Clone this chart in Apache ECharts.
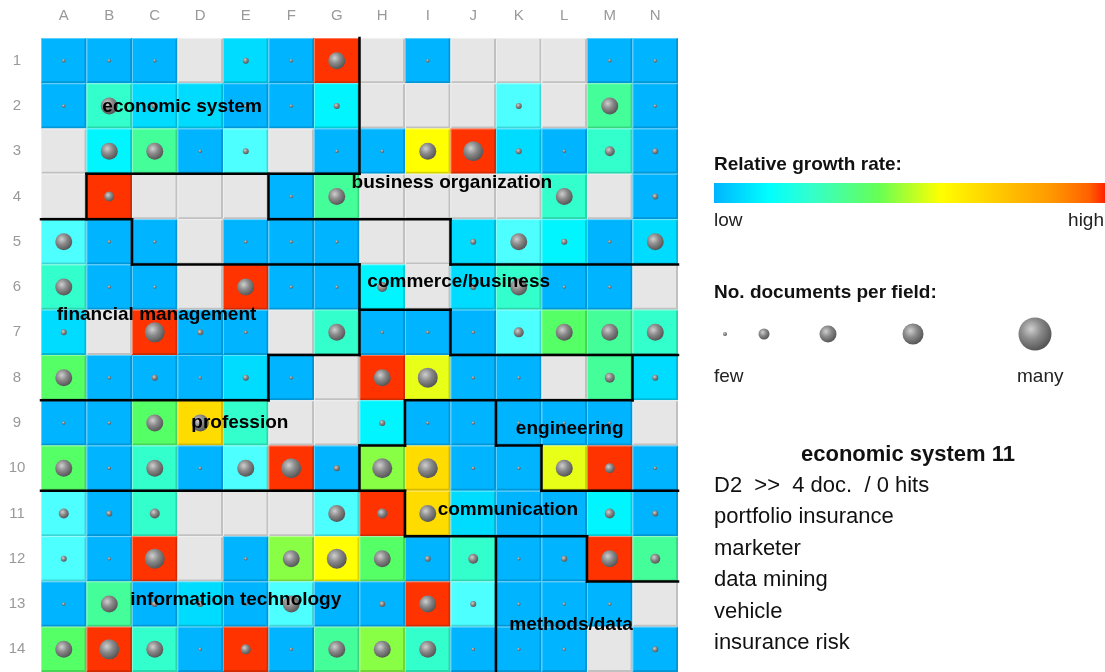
<!DOCTYPE html>
<html><head><meta charset="utf-8">
<script src="https://cdn.jsdelivr.net/npm/echarts@6/dist/echarts.min.js"></script>
<style>html,body{margin:0;padding:0;background:#fff}#c{width:1105px;height:672px}</style>
</head><body><div id="c"></div>
<script>
const columns = ['A','B','C','D','E','F','G','H','I','J','K','L','M','N'];
const rows = ['1','2','3','4','5','6','7','8','9','10','11','12','13','14'];

// relative growth class per field (0 = empty field), rows 1..14, columns A..N
const growth = [
  [1,1,1,0,2,1,12,0,1,0,0,0,1,1],
  [1,5,2,2,1,1,3,0,0,0,4,0,6,1],
  [0,3,6,1,4,0,1,1,10,12,2,1,5,1],
  [0,12,0,0,0,1,6,0,0,0,0,5,0,1],
  [4,1,1,0,1,1,1,0,0,2,4,3,1,2],
  [5,1,1,0,12,1,1,3,0,2,5,1,1,0],
  [2,0,12,1,1,0,5,1,1,1,4,7,6,5],
  [7,1,1,1,2,1,0,12,9,1,1,0,6,2],
  [1,1,7,11,5,0,0,3,1,1,1,1,1,0],
  [7,1,5,1,4,12,1,8,11,1,1,9,12,1],
  [4,1,5,0,0,0,4,12,11,2,1,1,3,1],
  [4,1,12,0,1,8,10,7,1,5,1,1,12,6],
  [1,6,1,2,1,4,1,1,12,4,1,1,1,0],
  [7,12,5,1,12,1,6,8,5,1,1,1,0,1]
];

// documents per field (size class 0 = few .. 4 = many), null = empty field
const docs = [
  [0,0,0,null,1,0,3,null,0,null,null,null,0,0],
  [0,3,1,0,0,0,1,null,null,null,1,null,3,0],
  [null,3,3,0,1,null,0,0,3,4,1,0,2,1],
  [null,2,null,null,null,0,3,null,null,null,null,3,null,1],
  [3,0,0,null,0,0,0,null,null,1,3,1,0,3],
  [3,0,0,null,3,0,0,2,null,1,3,0,0,null],
  [1,null,4,1,0,null,3,0,0,0,2,3,3,3],
  [3,0,1,0,1,0,null,3,4,0,0,null,2,1],
  [0,0,3,3,0,null,null,1,0,0,0,0,0,null],
  [3,0,3,0,3,4,1,4,4,0,0,3,2,0],
  [2,1,2,null,null,null,3,2,3,0,0,0,2,1],
  [1,0,4,null,0,3,4,3,1,2,0,1,3,2],
  [0,3,1,1,0,3,0,1,3,1,0,0,0,null],
  [3,4,3,0,2,0,3,3,3,0,0,0,null,1]
];

// subject regions: name and centre in grid units (columns, rows from top-left edge)
const regionNames = ['economic system','business organization','commerce/business','financial management','profession','engineering','communication','information technology','methods/data'];
const regionCol = [3.10, 9.03, 9.18, 2.54, 4.37, 11.62, 10.26, 4.28, 11.65];
const regionRow = [1.51, 3.20, 5.38, 6.11, 8.50, 8.63, 10.41, 12.41, 12.96];

// region borders as cell-edge segments [x1, y1, x2, y2]
const regionBorders = [
  [7,0,7,3],[1,3,7,3],[1,3,1,4],[0,4,2,4],[2,4,2,5],[2,5,7,5],
  [5,3,5,4],[5,4,9,4],[9,4,9,5],[9,5,14,5],
  [7,5,7,7],[7,6,9,6],[9,6,9,7],[9,7,14,7],[5,7,7,7],[5,7,5,8],[0,8,5,8],
  [13,7,13,8],[8,8,13,8],[8,8,8,9],[7,9,8,9],[7,9,7,10],[0,10,8,10],
  [10,8,10,9],[10,9,11,9],[11,9,11,10],[11,10,14,10],
  [8,10,8,11],[8,11,12,11],[12,11,12,12],[12,12,14,12],[10,11,10,14]
];

const growthColors = ['#e6e6e6','#00b4ff','#00dcff','#00f5ff','#4dffff','#33ffcc','#44ff99','#55ff66','#88ff44','#e8ff18','#ffff00','#ffdc00','#ff3300'];
const docSizes = [3.5, 6, 10, 17, 20];

const panelTitle = 'economic system 11';
const panelLines = ['D2  >>  4 doc.  / 0 hits','portfolio insurance','marketer','data mining','vehicle','insurance risk'];
const legendSphereSizes = [4, 11, 17, 21, 33];

const FONT = "'Liberation Sans', Arial, sans-serif";

const cellData = [], docData = [];
for (let r = 0; r < rows.length; r++) {
  for (let c = 0; c < columns.length; c++) {
    cellData.push([c, r, growth[r][c]]);
    if (growth[r][c] > 0 && docs[r][c] !== null) docData.push([c, r, docs[r][c]]);
  }
}
const borderData = regionBorders.map(s => [0, 0, s[0], s[1], s[2], s[3]]);
const labelData = regionNames.map((n, i) => [0, 0, regionCol[i], regionRow[i]]);

function origin(api) {
  const p = api.coord([0, 0]); const s = api.size([1, 1]);
  return {x: p[0] - s[0] / 2, y: p[1] - s[1] / 2, w: s[0], h: s[1]};
}

const sphere = (r) => ({type:'radial', x:0.38, y:0.35, r:0.7, colorStops:[
  {offset:0, color:'#cfcfcf'},{offset:0.45, color:'#8a8a8a'},{offset:1, color:'#505050'}]});

const chart = echarts.init(document.getElementById('c'));
const g = [];
g.push({type:'text', x:714, y:165, style:{text:'Relative growth rate:', font:'bold 19px '+FONT, fill:'#111', verticalAlign:'middle', textVerticalAlign:'middle'}});
g.push({type:'rect', shape:{x:714, y:183, width:391, height:20}, style:{fill:{type:'linear', x:0, y:0, x2:1, y2:0, colorStops:[
  {offset:0, color:'#00b4ff'},{offset:0.14, color:'#00ffff'},{offset:0.25, color:'#33ffcc'},{offset:0.42, color:'#66ff55'},
  {offset:0.58, color:'#ffff00'},{offset:0.72, color:'#ffcc00'},{offset:0.86, color:'#ff9900'},{offset:0.96, color:'#ff6000'},{offset:1, color:'#ff2200'}]}}});
g.push({type:'text', x:714, y:221, style:{text:'low', font:'19px '+FONT, fill:'#222', verticalAlign:'middle', textVerticalAlign:'middle'}});
g.push({type:'text', x:1104, y:221, style:{text:'high', font:'19px '+FONT, fill:'#222', align:'right', textAlign:'right', verticalAlign:'middle', textVerticalAlign:'middle'}});
g.push({type:'text', x:714, y:293, style:{text:'No. documents per field:', font:'bold 19px '+FONT, fill:'#111', verticalAlign:'middle', textVerticalAlign:'middle'}});
const legendX = [725, 764, 828, 913, 1035];
legendSphereSizes.forEach((d, i) => {
  g.push({type:'circle', shape:{cx:legendX[i], cy:334, r:d/2}, style:{fill:sphere()}});
});
g.push({type:'text', x:714, y:377, style:{text:'few', font:'19px '+FONT, fill:'#222', verticalAlign:'middle', textVerticalAlign:'middle'}});
g.push({type:'text', x:1017, y:377, style:{text:'many', font:'19px '+FONT, fill:'#222', verticalAlign:'middle', textVerticalAlign:'middle'}});
g.push({type:'text', x:908, y:455, style:{text:panelTitle, font:'bold 22px '+FONT, fill:'#111', align:'center', textAlign:'center', verticalAlign:'middle', textVerticalAlign:'middle'}});
panelLines.forEach((t, i) => {
  g.push({type:'text', x:714, y:486 + i * 31.4, style:{text:t, font:'22px '+FONT, fill:'#111', verticalAlign:'middle', textVerticalAlign:'middle'}});
});

chart.setOption({
  animation: false,
  backgroundColor: '#fff',
  grid: {left: 41, top: 38, width: 637, height: 637},
  xAxis: {type:'category', data: columns, position:'top', axisLine:{show:false}, axisTick:{show:false}, splitLine:{show:false},
    axisLabel:{color:'#999', fontSize:15, fontFamily:FONT, margin:22, verticalAlign:'middle'}},
  yAxis: {type:'category', data: rows, inverse:true, axisLine:{show:false}, axisTick:{show:false}, splitLine:{show:false},
    axisLabel:{color:'#999', fontSize:15, fontFamily:FONT, margin:24, align:'center'}},
  series: [
    {type:'custom', name:'fields', data: cellData, encode:{x:0, y:1}, z:1,
      renderItem: (params, api) => {
        const c = api.coord([api.value(0), api.value(1)]);
        const s = api.size([1, 1]);
        const x = c[0] - s[0] / 2, y = c[1] - s[1] / 2, w = s[0], h = s[1];
        const col = growthColors[api.value(2)];
        return {type:'group', children:[
          {type:'rect', shape:{x, y, width:w, height:h}, style:{fill:col}},
          {type:'polyline', shape:{points:[[x+0.5, y+h-1], [x+0.5, y+0.5], [x+w-1, y+0.5]]}, style:{stroke:'rgba(255,255,255,0.35)', lineWidth:1, fill:null}},
          {type:'polyline', shape:{points:[[x+1, y+h-1], [x+w-1, y+h-1], [x+w-1, y+1]]}, style:{stroke:'rgba(0,0,0,0.16)', lineWidth:2, fill:null}}
        ]};
      }},
    {type:'scatter', name:'documents', data: docData, z:3,
      symbolSize: (v) => docSizes[v[2]],
      itemStyle:{color: sphere(), opacity:1}},
    {type:'custom', name:'borders', data: borderData, encode:{x:0, y:1}, z:5,
      renderItem: (params, api) => {
        const o = origin(api);
        return {type:'line', shape:{x1:o.x + api.value(2) * o.w, y1:o.y + api.value(3) * o.h, x2:o.x + api.value(4) * o.w, y2:o.y + api.value(5) * o.h},
          style:{stroke:'#000', lineWidth:2.5, lineCap:'square'}};
      }},
    {type:'custom', name:'regions', data: labelData, encode:{x:0, y:1}, z:6,
      renderItem: (params, api) => {
        const o = origin(api);
        return {type:'text', x:o.x + api.value(2) * o.w, y:o.y + api.value(3) * o.h,
          style:{text: regionNames[params.dataIndex], font:'bold 19px '+FONT, fill:'#000', align:'center', verticalAlign:'middle'}};
      }}
  ],
  graphic: g
});
</script></body></html>
